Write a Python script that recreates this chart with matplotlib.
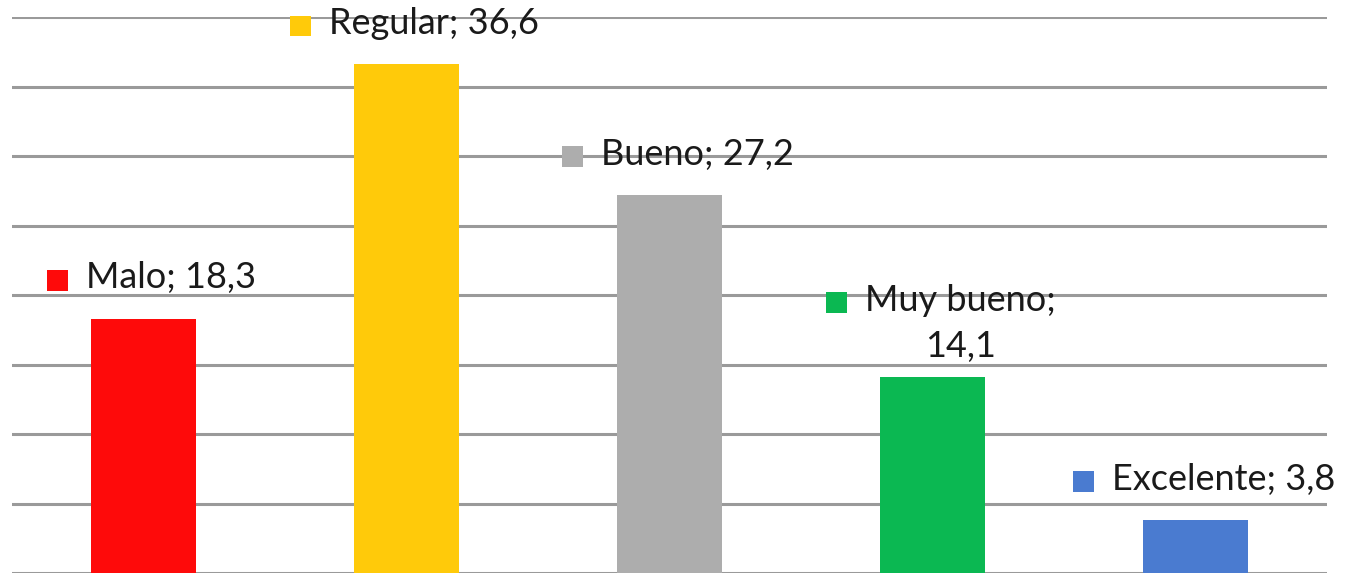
import matplotlib.pyplot as plt
from matplotlib.offsetbox import AnnotationBbox, DrawingArea, HPacker, TextArea
from matplotlib.patches import Rectangle

# --- Data ---
categories = ["Malo", "Regular", "Bueno", "Muy bueno", "Excelente"]
values = [18.3, 36.6, 27.2, 14.1, 3.8]
value_labels = ["18,3", "36,6", "27,2", "14,1", "3,8"]
colors = ["#FE0A0A", "#FFCA0A", "#ADADAD", "#0BB852", "#4A7BD0"]
label_texts = ["Malo; 18,3", "Regular; 36,6", "Bueno; 27,2", "Muy bueno;\n14,1", "Excelente; 3,8"]

FONT = "Lato"
FONT_SIZE = 26
KEY = 15  # legend key square size, points

fig = plt.figure(figsize=(13.45, 5.75), dpi=100)
ax = fig.add_axes([12 / 1345, 2 / 575, 1315 / 1345, 556 / 575])

x = range(len(categories))
ax.bar(x, values, width=0.4, color=colors, zorder=3)

ax.set_xlim(-0.5, len(categories) - 0.5)
ax.set_ylim(0, 40)
ax.set_yticks(range(0, 41, 5))
ax.yaxis.grid(True, color="#9a9a9a", linewidth=2.2, zorder=0)
ax.tick_params(left=False, bottom=False, labelleft=False, labelbottom=False)
for s in ax.spines.values():
    s.set_visible(False)

for i, (val, txt, col) in enumerate(zip(values, label_texts, colors)):
    line_h = FONT_SIZE * 1.2
    da = DrawingArea(KEY, line_h, 0, 0)
    da.add_artist(Rectangle((0, (line_h - KEY) / 2 + 2), KEY, KEY, facecolor=col, edgecolor="none"))
    ta = TextArea(txt, textprops=dict(fontsize=FONT_SIZE, family=FONT, color="#1a1a1a",
                                      multialignment="center", linespacing=1.5))
    box = HPacker(children=[da, ta], align="top", pad=0, sep=13)
    ab = AnnotationBbox(box, (i, val), xybox=(6, 10), xycoords="data",
                        boxcoords="offset points", box_alignment=(0.5, 0),
                        frameon=False, pad=0, annotation_clip=False)
    ax.add_artist(ab)

fig.savefig("out.png", dpi=100)
